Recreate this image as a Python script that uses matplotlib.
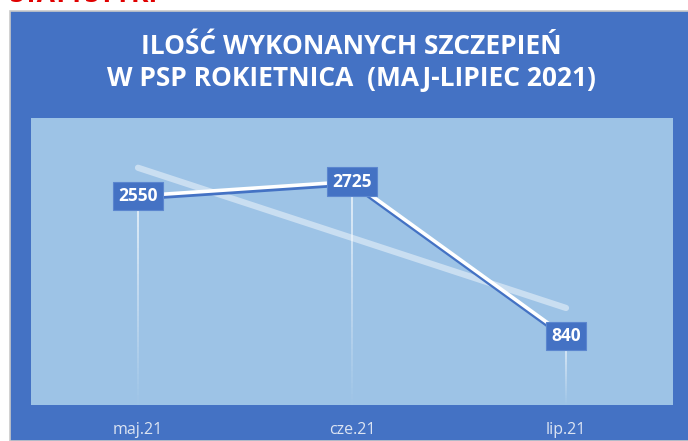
import matplotlib.pyplot as plt
import matplotlib.patheffects as pe
from matplotlib.patches import Rectangle
import numpy as np

plt.rcParams['font.family'] = ['Open Sans', 'DejaVu Sans']

months = ['maj.21', 'cze.21', 'lip.21']
szczepienia = [2550, 2725, 840]
tytul = 'ILOŚĆ WYKONANYCH SZCZEPIEŃ\nW PSP ROKIETNICA  (MAJ-LIPIEC 2021)'

ciemny = '#4472C4'
jasny = '#9DC3E6'

fig = plt.figure(figsize=(6.88, 4.41), dpi=100)
fig.patch.set_facecolor('white')

# niebieskie tlo wykresu
fig.patches.append(Rectangle((10 / 688, 0), 1, 1 - 11 / 441, transform=fig.transFigure,
                             facecolor=ciemny, edgecolor='#C9C9C9', lw=1.2, zorder=-1))
# ucieta czerwona belka u gory
fig.text(10 / 688, 1 + 5 / 441, 'STATYSTYKI', color='#E00000', fontsize=19,
         fontweight='bold', ha='left', va='center')

fig.text(351 / 688, 1 - 47 / 441, tytul.split('\n')[0], color='white', fontsize=19,
         fontweight='bold', ha='center', va='center')
fig.text(351 / 688, 1 - 78 / 441, tytul.split('\n')[1], color='white', fontsize=19,
         fontweight='bold', ha='center', va='center')

ax = fig.add_axes([31 / 688, 1 - 405 / 441, (673 - 31) / 688, (405 - 118) / 441])
ax.set_zorder(2)
ax.set_facecolor(jasny)
for s in ax.spines.values():
    s.set_visible(False)
ax.set_xlim(-0.5, 2.5)
ax.set_ylim(0, 3500)
ax.set_yticks([])
x = np.arange(len(months))
ax.set_xticks(x)
ax.set_xticklabels(months, color='#DCE4F2', fontsize=11.5)
ax.tick_params(axis='x', length=0, pad=12)

# linie spadku (zanikajace ku dolowi)
n = 40
for xi, v in zip(x, szczepienia):
    ys = np.linspace(v, 0, n + 1)
    for k in range(n):
        ax.plot([xi, xi], [ys[k], ys[k + 1]], color='white', lw=1.1,
                alpha=0.9 * (1 - k / n), solid_capstyle='butt', zorder=2)

# linia trendu
a, b = np.polyfit(x, szczepienia, 1)
ax.plot(x, a * x + b, color='white', alpha=0.45, lw=4.5, solid_capstyle='round', zorder=3)

ax.plot(x, szczepienia, color='white', lw=2.6, zorder=4,
        path_effects=[pe.SimpleLineShadow(offset=(0, -2), shadow_color=ciemny, alpha=1),
                      pe.Normal()])

for xi, v in zip(x, szczepienia):
    ax.text(xi, v, str(v), color='white', fontsize=12.5, fontweight='bold',
            ha='center', va='center', zorder=5,
            bbox=dict(boxstyle='square,pad=0.3', facecolor=ciemny, edgecolor='#5B86CF', lw=0.8))

fig.savefig('out.png', dpi=100)
